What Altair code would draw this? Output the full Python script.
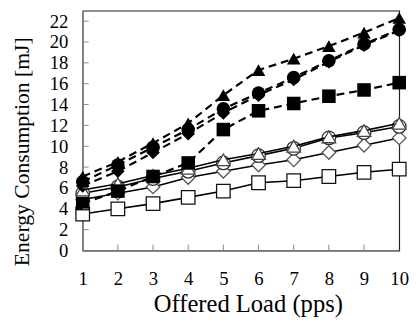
import altair as alt
import pandas as pd

load = [1, 2, 3, 4, 5, 6, 7, 8, 9, 10]
y_ticks = [0, 2, 4, 6, 8, 10, 12, 14, 16, 18, 20, 22]

tri_filled = [7.1, 8.5, 10.3, 12.2, 14.9, 17.3, 18.4, 19.6, 20.9, 22.3]
circ_filled = [6.6, 8.2, 9.9, 11.6, 13.6, 15.1, 16.6, 18.2, 19.8, 21.2]
diam_filled = [6.2, 7.6, 9.4, 11.2, 13.2, 14.9, 16.4, 18.1, 19.7, 21.1]
sq_filled = [4.5, 5.7, 7.1, 8.4, 11.6, 13.4, 14.1, 14.8, 15.4, 16.1]
tri_open = [5.8, 6.4, 7.2, 7.9, 8.7, 9.3, 10.0, 10.9, 11.5, 12.2]
circ_open = [5.5, 6.1, 6.9, 7.6, 8.4, 9.1, 9.8, 10.8, 11.3, 11.9]
diam_open = [4.9, 5.5, 6.1, 7.0, 7.6, 8.2, 8.7, 9.4, 10.1, 10.8]
sq_open = [3.5, 4.0, 4.5, 5.1, 5.7, 6.5, 6.7, 7.1, 7.5, 7.8]

series = [
    # values, shape, filled, dashed, line width, marker colour
    (sq_open, "square", False, False, 1.6, "#111"),
    (diam_open, "diamond", False, False, 1.6, "#555"),
    (circ_open, "circle", False, False, 1.6, "#333"),
    (tri_open, "triangle-up", False, False, 1.6, "#444"),
    (sq_filled, "square", True, True, 2.2, "#000"),
    (diam_filled, "diamond", True, True, 2.2, "#000"),
    (circ_filled, "circle", True, True, 2.2, "#000"),
    (tri_filled, "triangle-up", True, True, 2.2, "#000"),
]

FONT = "Liberation Serif"
xs = alt.Scale(domain=[1, 10], nice=False, zero=False)
ys = alt.Scale(domain=[0, 23], nice=False)
x_axis = alt.Axis(values=load, format="d", title="Offered Load (pps)",
                  titleX=168, titleFontSize=25)
y_axis = alt.Axis(values=y_ticks, format="d", title="Energy Consumption [mJ]",
                  titleY=143, titleFontSize=22)

layers = []
for vals, shape, filled, dashed, lw, col in series:
    df = pd.DataFrame({"load": load, "energy": vals})
    base = alt.Chart(df).encode(
        x=alt.X("load:Q", scale=xs, axis=x_axis),
        y=alt.Y("energy:Q", scale=ys, axis=y_axis),
    )
    line_kw = dict(color="#000", strokeWidth=lw)
    if dashed:
        line_kw["strokeDash"] = [8, 5]
    layers.append(base.mark_line(**line_kw))
    if filled:
        layers.append(base.mark_point(shape=shape, filled=True, color="#000",
                                      size=190, opacity=1))
    else:
        layers.append(base.mark_point(shape=shape, filled=False, color=col,
                                      fill="white", fillOpacity=1,
                                      strokeWidth=1.3, size=190, opacity=1))

# inward tick marks
ytick_df = pd.DataFrame({"energy": y_ticks[1:]})
layers.append(alt.Chart(ytick_df).mark_rule(color="#888", strokeWidth=1).encode(
    y=alt.Y("energy:Q", scale=ys, axis=y_axis), x=alt.value(0), x2=alt.value(6)))
xtick_df = pd.DataFrame({"load": load[1:-1]})
layers.append(alt.Chart(xtick_df).mark_rule(color="#888", strokeWidth=1).encode(
    x=alt.X("load:Q", scale=xs, axis=x_axis), y=alt.value(244), y2=alt.value(238)))

chart = alt.layer(*layers).properties(
    width=322, height=244,
    autosize=alt.AutoSizeParams(type="none"),
    padding={"left": 76, "top": 0, "right": 12, "bottom": 72},
).configure_view(
    stroke="#222", strokeWidth=1.2
).configure_axis(
    grid=False, domainColor="#888", domainWidth=1.2, ticks=False,
    labelFont=FONT, titleFont=FONT, labelFontSize=19,
    labelColor="#000", titleColor="#000", titleFontWeight="normal",
    labelOverlap=False, labelBound=False, labelFlush=False,
).configure_axisX(
    labelPadding=20, titlePadding=3, labelAngle=0
).configure_axisY(
    labelPadding=15, titlePadding=16
)

chart.save("out.html", embed_options={"renderer": "svg", "actions": False})
